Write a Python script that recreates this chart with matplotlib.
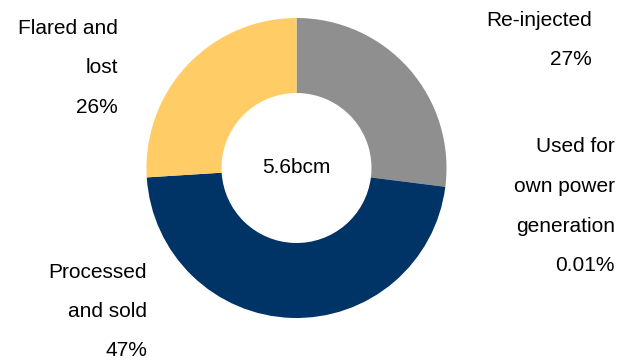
import matplotlib
matplotlib.use("Agg")
import matplotlib.pyplot as plt

# ── Data ──────────────────────────────────────────────────────────────────────
categories = ["Re-injected", "Used for own power generation", "Processed and sold", "Flared and lost"]
shares     = [27, 0.01, 47, 26]
share_txt  = ["27%", "0.01%", "47%", "26%"]
total_txt  = "5.6bcm"

# ── Style ─────────────────────────────────────────────────────────────────────
COLORS = ["#8f8f8f", "#1f4e79", "#003366", "#ffcc66"]
FONT   = "Liberation Sans"
W, H   = 621, 360

# label blocks: (lines, right edge px, first-line centre y px)
LABEL_LINES = [
    ["Re-injected"],
    ["Used for", "own power", "generation"],
    ["Processed", "and sold"],
    ["Flared and", "lost"],
]
LABEL_POS = [(592, 20), (615, 147), (147, 272), (118, 28)]
LINE_STEP = 39.5

fig = plt.figure(figsize=(W / 100, H / 100), dpi=100)
fig.patch.set_facecolor("white")

# donut: centre (296.5, 168) px, outer radius 150 px
cx, cy, r = 296.5, 168, 150
ax = fig.add_axes([(cx - r) / W, (H - cy - r) / H, 2 * r / W, 2 * r / H])
ax.pie(shares, colors=COLORS, startangle=90, counterclock=False, radius=1,
       wedgeprops=dict(width=0.5, edgecolor="none"))
ax.set_xlim(-1, 1)
ax.set_ylim(-1, 1)
ax.set_aspect("equal")
ax.set_axis_off()

ax.text(0, 0, total_txt, ha="center", va="center", fontsize=15,
        fontfamily=FONT, color="black")

for lines, pct, (x, y) in zip(LABEL_LINES, share_txt, LABEL_POS):
    for i, line in enumerate(lines + [pct]):
        fig.text(x / W, 1 - (y + i * LINE_STEP) / H, line, ha="right", va="center",
                 fontsize=15, fontfamily=FONT, color="black")

fig.savefig("out.png", dpi=100, facecolor="white")
